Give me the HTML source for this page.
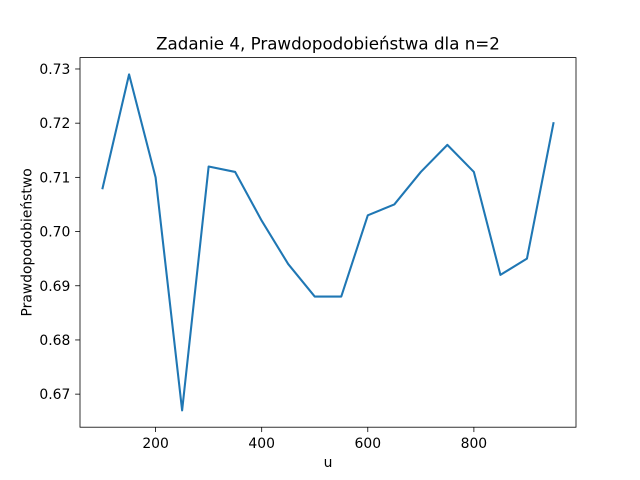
<!DOCTYPE html>
<html><head><meta charset="utf-8">
<style>
html,body{margin:0;padding:0;background:#fff;}
svg{display:block;font-family:"DejaVu Sans","Liberation Sans",sans-serif;}
</style></head>
<body>
<svg id="chart" width="640" height="480" viewBox="0 0 640 480" xmlns="http://www.w3.org/2000/svg">
<rect width="640" height="480" fill="#fff"/>
<text x="328" y="49.5" font-size="16.7" text-anchor="middle" fill="#000">Zadanie 4, Prawdopodobieństwa dla n=2</text>
<text x="328" y="467" font-size="13.9" text-anchor="middle" fill="#000">u</text>
<text x="31.5" y="242.4" font-size="13.9" text-anchor="middle" fill="#000" transform="rotate(-90 31.5 242.4)">Prawdopodobieństwo</text>
<g id="xticks"></g>
<g id="yticks"></g>
<g id="plot"></g>
<rect x="80" y="57.6" width="496" height="369.6" fill="none" stroke="#000" stroke-width="0.8"/>
</svg>
<script>
const uValues = [100,150,200,250,300,350,400,450,500,550,600,650,700,750,800,850,900,950];
const probValues = [0.708,0.729,0.710,0.667,0.712,0.711,0.702,0.694,0.688,0.688,0.703,0.705,0.711,0.716,0.711,0.692,0.695,0.720];
const xTickLabels = [200,400,600,800];
const yTickLabels = [0.67,0.68,0.69,0.70,0.71,0.72,0.73];

const NS="http://www.w3.org/2000/svg";
const L=80,R=576,T=57.6,B=427.2;
const xMin=Math.min(...uValues),xMax=Math.max(...uValues);
const yMin=Math.min(...probValues),yMax=Math.max(...probValues);
const xPad=(xMax-xMin)*0.05,yPad=(yMax-yMin)*0.05;
const x0=xMin-xPad,x1=xMax+xPad,y0=yMin-yPad,y1=yMax+yPad;
const sx=u=>L+(u-x0)/(x1-x0)*(R-L);
const sy=v=>B-(v-y0)/(y1-y0)*(B-T);

const xg=document.getElementById('xticks');
xTickLabels.forEach(t=>{
  const x=sx(t);
  const ln=document.createElementNS(NS,'line');
  ln.setAttribute('x1',x);ln.setAttribute('x2',x);ln.setAttribute('y1',B);ln.setAttribute('y2',B+4.86);
  ln.setAttribute('stroke','#000');ln.setAttribute('stroke-width','0.8');
  
  
  xg.appendChild(ln);
  const tx=document.createElementNS(NS,'text');
  tx.setAttribute('x',x);tx.setAttribute('y',B+20.8);tx.setAttribute('font-size','13.9');
  tx.setAttribute('text-anchor','middle');tx.textContent=t;
  
  
  xg.appendChild(tx);
});
const yg=document.getElementById('yticks');
yTickLabels.forEach(t=>{
  const y=sy(t);
  const ln=document.createElementNS(NS,'line');
  ln.setAttribute('x1',L-4.86);ln.setAttribute('x2',L);ln.setAttribute('y1',y);ln.setAttribute('y2',y);
  ln.setAttribute('stroke','#000');ln.setAttribute('stroke-width','0.8');
  
  
  yg.appendChild(ln);
  const tx=document.createElementNS(NS,'text');
  tx.setAttribute('x',L-9.7);tx.setAttribute('y',y+5);tx.setAttribute('font-size','13.9');
  tx.setAttribute('text-anchor','end');tx.textContent=t.toFixed(2);
  
  
  yg.appendChild(tx);
});
const pts=uValues.map((u,i)=>sx(u).toFixed(2)+','+sy(probValues[i]).toFixed(2)).join(' ');
const pl=document.createElementNS(NS,'polyline');
pl.setAttribute('points',pts);pl.setAttribute('fill','none');
pl.setAttribute('stroke','#1f77b4');pl.setAttribute('stroke-width','2.08');
pl.setAttribute('stroke-linejoin','round');pl.setAttribute('stroke-linecap','square');


document.getElementById('plot').appendChild(pl);
</script>
</body></html>
